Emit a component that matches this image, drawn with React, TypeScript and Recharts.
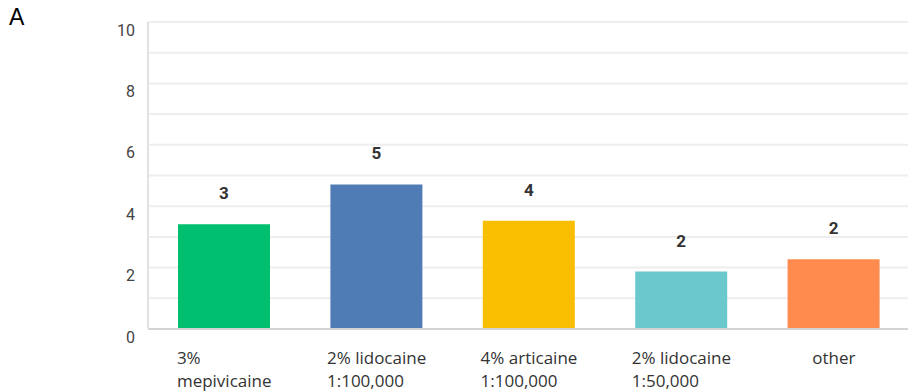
import React from 'react';
import { BarChart, Bar, XAxis, YAxis, CartesianGrid, Cell, LabelList } from 'recharts';

const categories = ['3%\nmepivicaine', '2% lidocaine\n1:100,000', '4% articaine\n1:100,000', '2% lidocaine\n1:50,000', 'other'];
const values = [3.41, 4.71, 3.53, 1.87, 2.27];
const shownLabels = [3, 5, 4, 2, 2];
const colors = ['#00BF6F', '#507CB6', '#F9BE00', '#6BC8CD', '#FF8B4F'];
const yTicks = [0, 1, 2, 3, 4, 5, 6, 7, 8, 9, 10];

const data = categories.map((name, i) => ({ name, value: values[i], label: shownLabels[i] }));

const X_SIZE = 17;
const X_FONT = `${X_SIZE}px "Open Sans"`;

const measure = (s: string) => {
  const ctx = document.createElement('canvas').getContext('2d');
  if (!ctx) return s.length * 8;
  ctx.font = X_FONT;
  return ctx.measureText(s).width;
};

const XTick = (props: any) => {
  const { x, y, payload } = props;
  const lines = String(payload.value).split('\n');
  const w = Math.max(...lines.map(measure));
  return (
    <g>
      {lines.map((ln, i) => (
        <text key={i} x={x - w / 2} y={y + 28 + i * 23} textAnchor="start" dominantBaseline="central"
          fill="#333" fontSize={X_SIZE} fontFamily='"Open Sans"'>
          {ln}
        </text>
      ))}
    </g>
  );
};

const YTick = (props: any) => {
  const { y, payload } = props;
  if (payload.value % 2 !== 0) return null;
  return (
    <text x={135} y={y + 8} textAnchor="end" dominantBaseline="central" fill="#444"
      fontSize={16} fontFamily="Roboto">
      {payload.value}
    </text>
  );
};

const TopLabel = (props: any) => {
  const { x, y, width, value } = props;
  return (
    <text x={x + width / 2} y={y - 31} textAnchor="middle" dominantBaseline="central" fill="#333"
      fontSize={17} fontWeight="bold" fontFamily="Roboto">
      {value}
    </text>
  );
};

export default function App() {
  return (
    <div style={{ position: 'absolute', left: 0, top: 0, width: 908, height: 392, overflow: 'hidden', background: '#fff' }}>
      <div style={{ position: 'absolute', left: 9, top: 3, fontSize: 23, lineHeight: '28px', fontFamily: '"Liberation Sans", Arial', color: '#000' }}>A</div>
      <BarChart width={912} height={392} data={data} margin={{ top: 22, right: 2, bottom: 0, left: 0 }}
        barCategoryGap={60}>
        <CartesianGrid vertical={false} stroke="#eeeeee" strokeWidth={2} />
        <XAxis dataKey="name" height={63} tickLine={false} tickSize={0} tickMargin={0}
          axisLine={{ stroke: '#d4d4d4', strokeWidth: 2 }} tick={<XTick />} interval={0} />
        <YAxis domain={[0, 10]} ticks={yTicks} width={148} tickLine={false} tickSize={0}
          axisLine={{ stroke: '#e2e2e2', strokeWidth: 2 }} tick={<YTick />} interval={0} />
        <Bar dataKey="value" isAnimationActive={false} barSize={92}>
          {data.map((d, i) => (
            <Cell key={i} fill={colors[i]} />
          ))}
          <LabelList dataKey="label" content={<TopLabel />} />
        </Bar>
      </BarChart>
    </div>
  );
}
